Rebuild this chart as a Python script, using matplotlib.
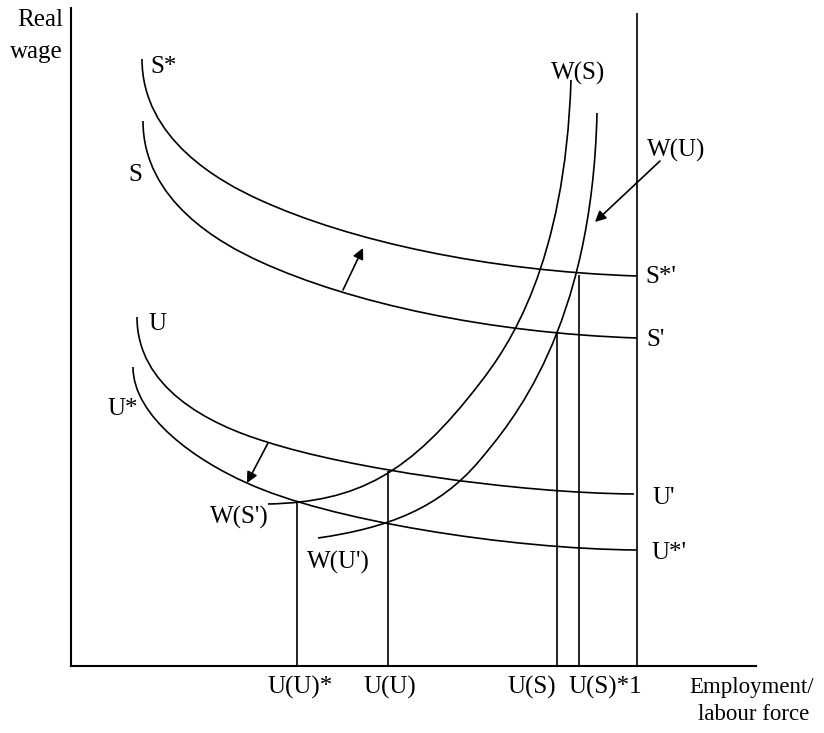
import matplotlib.pyplot as plt
from matplotlib.path import Path
from matplotlib.patches import PathPatch

plt.rcParams["font.family"] = ["Liberation Serif", "DejaVu Serif"]
plt.rcParams["font.size"] = 18

# curves as cubic Bezier control points (two segments each)
s_star_x = [71, 71, 149, 189, 279, 416, 566]
s_star_y = [607, 527, 484, 466, 425, 395, 390]
s_x = [72, 72, 150, 190, 280, 417, 566]
s_y = [545, 465, 422, 404, 363, 333, 328]
u_x = [66, 66, 136, 196, 276, 443, 563]
u_y = [349, 279, 242, 224, 198, 173, 172]
u_star_x = [62, 62, 126, 176, 256, 436, 566]
u_star_y = [299, 249, 205, 183, 146, 117, 116]
ws_x = [197, 287, 339, 409, 437, 494, 500]
ws_y = [162, 164, 192, 283, 319, 401, 586]
wu_x = [247, 317, 369, 409, 439, 521, 526]
wu_y = [128, 138, 158, 206, 242, 336, 553]

# equilibrium drop lines
drop_x = [226, 317, 486, 508, 566]
drop_top = [163, 195, 333, 391, 653]

# shift arrows (tail, head)
arrows = [((272, 376), (292, 418)),
          ((197, 223), (176, 183)),
          ((589, 505), (524, 444))]

labels = [("S*", 79, 599, "left"), ("S", 57, 491, "left"),
          ("U", 77, 342, "left"), ("U*", 36, 257, "left"),
          ("W(S')", 139, 149, "left"), ("W(U')", 236, 104, "left"),
          ("W(S)", 507, 593, "center"), ("W(U)", 576, 516, "left"),
          ("S*'", 574, 389, "left"), ("S'", 575, 326, "left"),
          ("U'", 581, 168, "left"), ("U*'", 580, 113, "left"),
          ("U(U)*", 229, -21, "center"), ("U(U)", 319, -21, "center"),
          ("U(S)", 461, -21, "center"), ("U(S)*1", 497, -21, "left"),
          ("Real", -8, 646, "right"), ("wage", -8, 614, "right")]
axis_title = [("Employment/", 681, -21), ("labour force", 683, -49)]


def bezier(xs, ys):
    verts = list(zip(xs, ys))
    codes = [Path.MOVETO] + [Path.CURVE4] * (len(verts) - 1)
    return Path(verts, codes)


fig = plt.figure(figsize=(8.24, 7.33), dpi=100)
ax = fig.add_axes([71 / 824, 67 / 733, 685 / 824, 658 / 733])
ax.set_xlim(0, 685)
ax.set_ylim(0, 658)
for side in ["top", "right"]:
    ax.spines[side].set_visible(False)
for side in ["left", "bottom"]:
    ax.spines[side].set_linewidth(1.5)
ax.set_xticks([])
ax.set_yticks([])

for xs, ys in [(s_star_x, s_star_y), (s_x, s_y), (u_x, u_y),
               (u_star_x, u_star_y), (ws_x, ws_y), (wu_x, wu_y)]:
    ax.add_patch(PathPatch(bezier(xs, ys), fill=False, lw=1.2,
                           ec="black", clip_on=False))

ax.vlines(drop_x, 0, drop_top, color="black", lw=1.2)

for tail, head in arrows:
    ax.annotate("", xy=head, xytext=tail,
                arrowprops=dict(arrowstyle="-|>", color="black", lw=1.2,
                                mutation_scale=16, shrinkA=0, shrinkB=0))

for txt, x, y, ha in labels:
    ax.text(x, y, txt, ha=ha, va="center")
for txt, x, y in axis_title:
    ax.text(x, y, txt, ha="center", va="center", fontsize=16.5)

plt.savefig("out.png", dpi=100)
